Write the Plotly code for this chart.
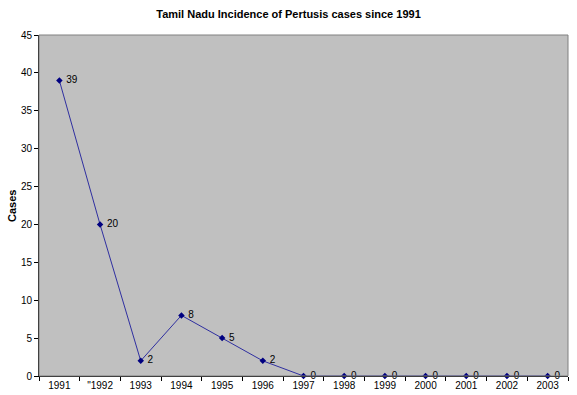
import plotly.graph_objects as go

years = ["1991", "\"1992", "1993", "1994", "1995", "1996", "1997",
         "1998", "1999", "2000", "2001", "2002", "2003"]
cases = [39, 20, 2, 8, 5, 2, 0, 0, 0, 0, 0, 0, 0]

fig = go.Figure()
fig.add_trace(go.Scatter(
    x=years, y=cases, mode="lines+markers+text",
    line=dict(color="#2F2FA0", width=1),
    marker=dict(symbol="diamond", size=5, color="#000080"),
    text=[" " + str(v) for v in cases], textposition="middle right",
    textfont=dict(family="Liberation Sans, Arial, sans-serif", size=10, color="black"),
    cliponaxis=False,
))

fig.update_layout(
    width=577, height=395,
    margin=dict(l=39, r=9, t=35, b=19),
    paper_bgcolor="white", plot_bgcolor="#C0C0C0",
    showlegend=False,
    font=dict(family="Liberation Sans, Arial, sans-serif", size=10, color="black"),
    title=dict(text="<b>Tamil Nadu Incidence of Pertusis cases since 1991</b>",
               x=0.5, xanchor="center", y=0.965, yanchor="middle",
               font=dict(size=11, color="black")),
    shapes=[dict(type="rect", xref="paper", yref="paper", x0=0, x1=1, y0=0, y1=1,
                 line=dict(color="#808080", width=1), layer="above")],
    annotations=[dict(text="<b>Cases</b>", xref="paper", yref="paper",
                      x=-0.052, y=0.5, xanchor="center", yanchor="middle",
                      textangle=-90, showarrow=False, font=dict(size=11))],
)
fig.update_xaxes(type="category", range=[-0.5, 12.5], tickson="boundaries",
                 ticks="outside", ticklen=4, tickcolor="black", automargin=False,
                 showline=True, linecolor="black", linewidth=1,
                 showgrid=False, zeroline=False, tickfont=dict(size=10))
fig.update_yaxes(range=[0, 45], dtick=5, ticks="outside", ticklen=4, tickcolor="black",
                 automargin=False,
                 showline=True, linecolor="black", linewidth=1,
                 showgrid=False, zeroline=False, tickfont=dict(size=10))

fig.write_html("out.html", config={"displayModeBar": False},
               post_script="document.body.style.margin='0';document.body.style.padding='0';")
